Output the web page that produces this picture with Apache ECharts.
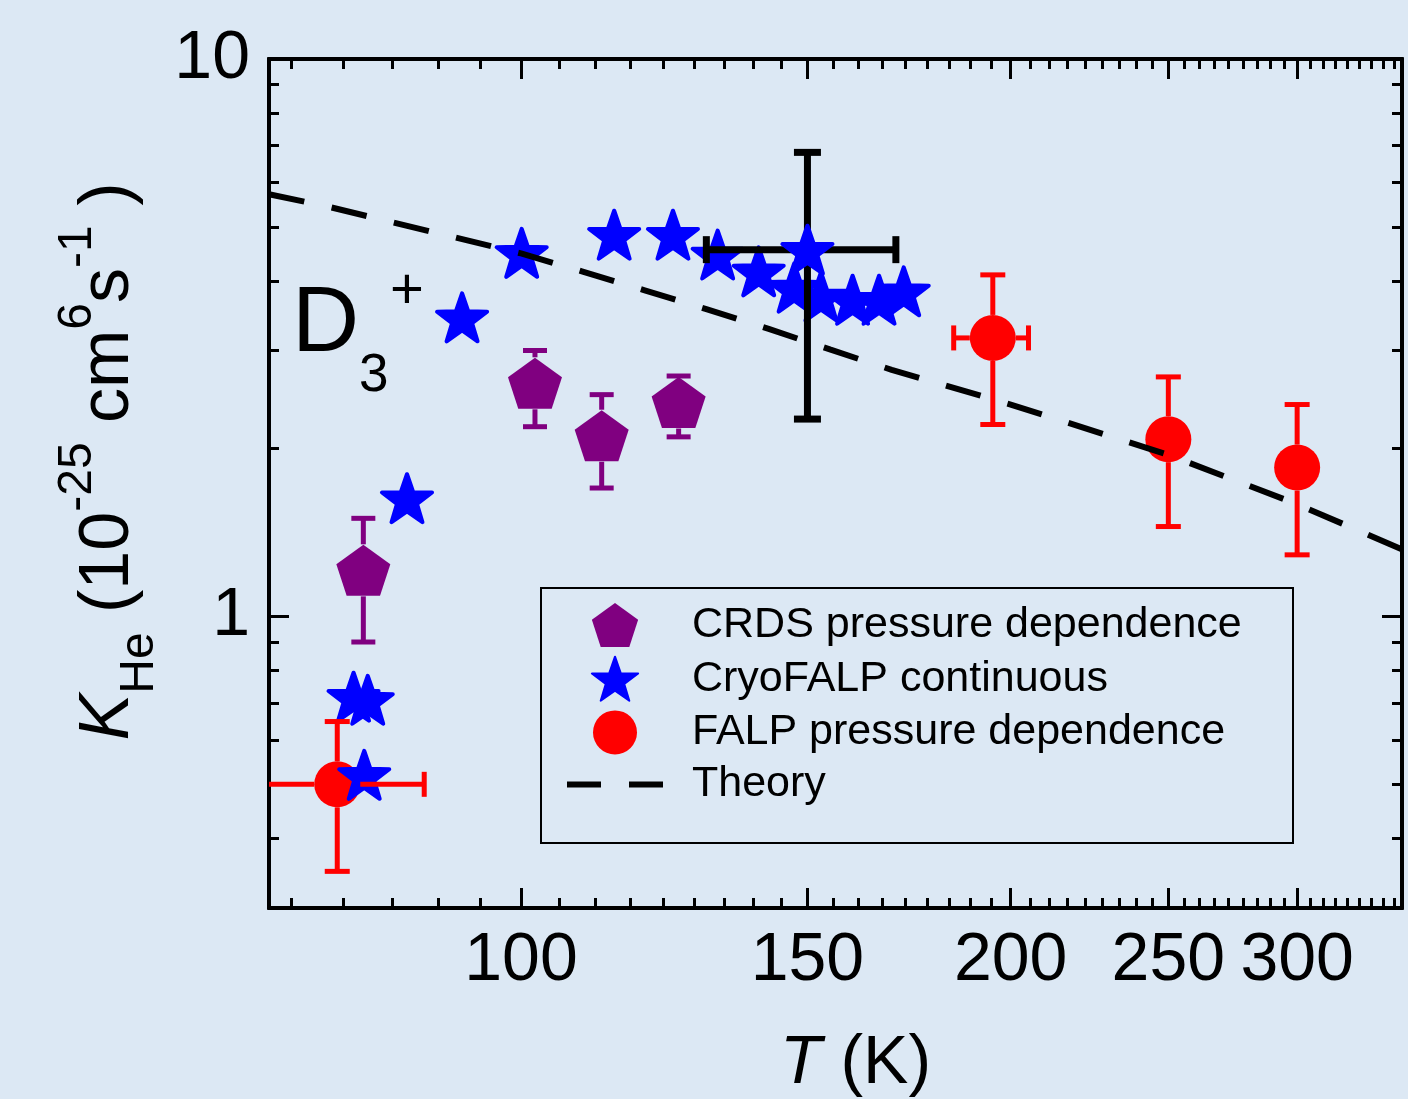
<!DOCTYPE html>
<html><head><meta charset="utf-8">
<script src="https://cdn.jsdelivr.net/npm/echarts@6/dist/echarts.min.js"></script>
<style>html,body{margin:0;padding:0;background:#dce8f4;}#c{width:1408px;height:1099px;}</style>
</head><body><div id="c"></div>
<script>
// ---------------- data ----------------
// CRDS pressure dependence (purple pentagons), K in 1e-25 cm^6 s^-1
const crdsT     = [80.0, 102.0, 112.1, 125.0];
const crdsK     = [1.21, 2.62, 2.11, 2.42];
const crdsKlow  = [0.90, 2.19, 1.70, 2.10];
const crdsKhigh = [1.50, 3.00, 2.50, 2.70];

// CryoFALP continuous (blue stars)
const cryoT = [80.1, 78.9, 80.5, 85.1, 92.0, 100.1, 114.1, 124.0, 132.1, 140.0, 147.2, 152.9, 159.9, 166.0, 171.9];
const cryoK = [0.52, 0.718, 0.709, 1.63, 3.44, 4.49, 4.84, 4.84, 4.46, 4.16, 3.89, 3.75, 3.70, 3.70, 3.83];

// CryoFALP point at 150 K with its (black) uncertainty
const cryoRefT = [150.0];
const cryoRefK = [4.55];
const cryoRefKlow = [2.26];
const cryoRefKhigh = [6.80];
const cryoRefTlow = [130.0];
const cryoRefThigh = [170.0];

// FALP pressure dependence (red circles)
const falpT     = [77.1, 195.0, 250.0, 300.0];
const falpK     = [0.50, 3.16, 2.08, 1.85];
const falpKlow  = [0.349, 2.21, 1.45, 1.29];
const falpKhigh = [0.648, 4.10, 2.69, 2.40];
const falpTlow  = [67.0, 184.5, null, null];
const falpThigh = [87.2, 205.1, null, null];

// Theory (dashed)
const theoryT = [70, 76, 100, 109, 119, 130, 142, 155, 169, 200, 250, 300, 348];
const theoryK = [5.72, 5.44, 4.48, 4.16, 3.85, 3.56, 3.28, 3.01, 2.77, 2.40, 1.95, 1.59, 1.32];

// axes
const xMin = 70, xMax = 348, yMin = 0.3, yMax = 10;
const xMajorTicks = [100, 150, 200, 250, 300];
const yMajorTicks = [1, 10];
const yMinorTicks = [0.4, 0.5, 0.6, 0.7, 0.8, 0.9, 2, 3, 4, 5, 6, 7, 8, 9];
// 8 minor ticks between consecutive major ticks (every 50/9 K)
const xMinorTicks = [];
for (let m = 50; m < 350; m += 50) {
  for (let k = 1; k <= 8; k++) {
    const v = m + k * 50 / 9;
    if (v > xMin && v < xMax) xMinorTicks.push(+v.toFixed(3));
  }
}

const FONT = 'Liberation Sans, Arial, sans-serif';
const pentagonPath = 'path://M50 0 L97.55 34.55 L79.39 90.45 L20.61 90.45 L2.45 34.55 Z';
const starPath = 'path://M50 0 L61.76 33.82 L97.55 34.55 L69.02 56.18 L79.39 90.45 L50 70 L20.61 90.45 L30.98 56.18 L2.45 34.55 L38.24 33.82 Z';
const dashPairPath = 'path://M0 0 H34 V6 H0 Z M62 0 H96 V6 H62 Z';

function errorBars(T, K, Klo, Khi, Tlo, Thi, color, lw, cap, gap, z) {
  return {
    type: 'custom', xAxisIndex: 0, yAxisIndex: 0, z: z, silent: true,
    data: T.map((t, i) => [t, K[i]]),
    renderItem: function (params, api) {
      const i = params.dataIndex;
      const cs = params.coordSys;
      const c = api.coord([T[i], K[i]]);
      const kids = [];
      const seg = (x1, y1, x2, y2) => kids.push({
        type: 'line', shape: { x1: x1, y1: y1, x2: x2, y2: y2 },
        style: { stroke: color, lineWidth: lw, fill: null }
      });
      if (Khi && Khi[i] != null) {
        const p = api.coord([T[i], Khi[i]]);
        seg(c[0], c[1] - gap, c[0], p[1]);
        seg(c[0] - cap / 2, p[1], c[0] + cap / 2, p[1]);
      }
      if (Klo && Klo[i] != null) {
        const p = api.coord([T[i], Klo[i]]);
        seg(c[0], c[1] + gap, c[0], p[1]);
        seg(c[0] - cap / 2, p[1], c[0] + cap / 2, p[1]);
      }
      if (Tlo && Tlo[i] != null) {
        const p = api.coord([Tlo[i], K[i]]);
        seg(c[0] - gap, c[1], Math.max(p[0], cs.x), c[1]);
        if (p[0] >= cs.x) seg(p[0], c[1] - cap / 2, p[0], c[1] + cap / 2);
      }
      if (Thi && Thi[i] != null) {
        const p = api.coord([Thi[i], K[i]]);
        seg(c[0] + gap, c[1], Math.min(p[0], cs.x + cs.width), c[1]);
        if (p[0] <= cs.x + cs.width) seg(p[0], c[1] - cap / 2, p[0], c[1] + cap / 2);
      }
      return { type: 'group', children: kids };
    }
  };
}

function xAx(pos, ticks, len, labels) {
  return {
    type: 'log', logBase: 10, min: xMin, max: xMax, position: pos,
    axisLine: { show: true, onZero: false, lineStyle: { color: '#000', width: 4 } },
    axisTick: { show: true, inside: true, length: len, customValues: ticks, lineStyle: { color: '#000', width: 3 } },
    axisLabel: labels ? {
      show: true, customValues: xMajorTicks, color: '#000', fontFamily: FONT, fontSize: 68, margin: 19,
      showMinLabel: true, showMaxLabel: true
    } : { show: false },
    splitLine: { show: false }, minorTick: { show: false }, minorSplitLine: { show: false }
  };
}
function yAx(pos, ticks, len, labels) {
  return {
    type: 'log', logBase: 10, min: yMin, max: yMax, position: pos,
    axisLine: { show: true, onZero: false, lineStyle: { color: '#000', width: 4 } },
    axisTick: { show: true, inside: true, length: len, customValues: ticks, lineStyle: { color: '#000', width: 3 } },
    axisLabel: labels ? {
      show: true, customValues: yMajorTicks, color: '#000', fontFamily: FONT, fontSize: 68, margin: 19,
      showMinLabel: true, showMaxLabel: true
    } : { show: false },
    splitLine: { show: false }, minorTick: { show: false }, minorSplitLine: { show: false }
  };
}

const chart = echarts.init(document.getElementById('c'), null, { renderer: 'canvas' });

const xAxes = [xAx('bottom', xMajorTicks, 20, true), xAx('bottom', xMinorTicks, 10, false),
               xAx('top', xMajorTicks, 20, false), xAx('top', xMinorTicks, 10, false)];
xAxes[0].name = '{i|T} (K)';
xAxes[0].nameLocation = 'middle';
xAxes[0].nameGap = 122;
xAxes[0].nameTextStyle = { color: '#000', fontFamily: FONT, fontSize: 68, padding: [0, 0, 0, 40],
  rich: { i: { fontStyle: 'italic', fontFamily: FONT, fontSize: 68, color: '#000' } } };

const yAxes = [yAx('left', yMajorTicks, 20, true), yAx('left', yMinorTicks, 10, false),
               yAx('right', yMajorTicks, 20, false), yAx('right', yMinorTicks, 10, false)];
yAxes[0].name = '{k|K}{sub|He}{t| (10}{sup|-25}{t| cm}{sup|6}{t|s}{sup|-1}{t| )}';
yAxes[0].nameLocation = 'middle';
yAxes[0].nameGap = 104;
yAxes[0].nameTextStyle = {
  color: '#000', fontFamily: FONT, fontSize: 70, padding: [0, 0, 0, 44],
  rich: {
    k: { fontStyle: 'italic', fontFamily: FONT, fontSize: 70, lineHeight: 110, color: '#000', verticalAlign: 'middle' },
    t: { fontFamily: FONT, fontSize: 70, lineHeight: 110, color: '#000', verticalAlign: 'middle' },
    sub: { fontFamily: FONT, fontSize: 48, color: '#000', verticalAlign: 'bottom', lineHeight: 48 },
    sup: { fontFamily: FONT, fontSize: 48, color: '#000', verticalAlign: 'top', lineHeight: 48 }
  }
};

chart.setOption({
  animation: false,
  backgroundColor: '#dce8f4',
  grid: { left: 269, top: 59, width: 1133, height: 849, containLabel: false, outerBoundsMode: 'none' },
  xAxis: xAxes,
  yAxis: yAxes,
  legend: {
    orient: 'vertical', left: 567, top: 603, itemWidth: 96, itemHeight: 44, itemGap: 8.7, padding: 0,
    selectedMode: false, symbolKeepAspect: true,
    textStyle: { color: '#000', fontFamily: FONT, fontSize: 43, padding: [0, 0, 0, 24] },
    data: [
      { name: 'CRDS pressure dependence', icon: pentagonPath },
      { name: 'CryoFALP continuous', icon: starPath },
      { name: 'FALP pressure dependence', icon: 'circle' },
      { name: 'Theory', icon: dashPairPath, itemStyle: { color: '#000', borderWidth: 0 } }
    ]
  },
  graphic: [
    { type: 'rect', shape: { x: 541, y: 588, width: 752, height: 255 }, style: { fill: null, stroke: '#000', lineWidth: 2 }, z: 1 },
    { type: 'text', x: 292, y: 325, style: { text: 'D', fontFamily: FONT, fontSize: 93, fill: '#000', align: 'left', verticalAlign: 'middle' } },
    { type: 'text', x: 359, y: 376, style: { text: '3', fontFamily: FONT, fontSize: 53, fill: '#000', align: 'left', verticalAlign: 'middle' } },
    { type: 'text', x: 390, y: 292, style: { text: '+', fontFamily: FONT, fontSize: 58, fill: '#000', align: 'left', verticalAlign: 'middle' } }
  ],
  series: [
    {
      name: 'FALP pressure dependence', type: 'scatter', z: 2,
      data: falpT.map((t, i) => [t, falpK[i]]),
      symbol: 'circle', symbolSize: 46, itemStyle: { color: '#ff0000', opacity: 1 }
    },
    {
      name: 'CryoFALP continuous', type: 'scatter', z: 3,
      data: cryoT.map((t, i) => [t, cryoK[i]]),
      symbol: starPath, symbolSize: [50, 48],
      itemStyle: { color: '#0000ff', borderColor: '#0000ff', borderWidth: 4, borderJoin: 'round', opacity: 1 }
    },
    errorBars(falpT, falpK, falpKlow, falpKhigh, falpTlow, falpThigh, '#ff0000', 5, 25, 23, 4),
    errorBars(crdsT, crdsK, crdsKlow, crdsKhigh, null, null, '#800080', 5, 24, 26, 4),
    errorBars(cryoRefT, cryoRefK, cryoRefKlow, cryoRefKhigh, cryoRefTlow, cryoRefThigh, '#000000', 7, 27, 0, 4),
    {
      name: 'CRDS pressure dependence', type: 'scatter', z: 5,
      data: crdsT.map((t, i) => [t, crdsK[i]]),
      symbol: pentagonPath, symbolSize: [54, 51], itemStyle: { color: '#800080', opacity: 1 }
    },
    {
      name: 'CryoFALP continuous', type: 'scatter', z: 6,
      data: cryoRefT.map((t, i) => [t, cryoRefK[i]]),
      symbol: starPath, symbolSize: [50, 48],
      itemStyle: { color: '#0000ff', borderColor: '#0000ff', borderWidth: 4, borderJoin: 'round', opacity: 1 }
    },
    {
      name: 'Theory', type: 'line', z: 7,
      data: theoryT.map((t, i) => [t, theoryK[i]]),
      symbol: 'none', showSymbol: false,
      itemStyle: { color: '#000' },
      lineStyle: { color: '#000', width: 6, type: [36, 28] }
    }
  ]
});
</script></body></html>
